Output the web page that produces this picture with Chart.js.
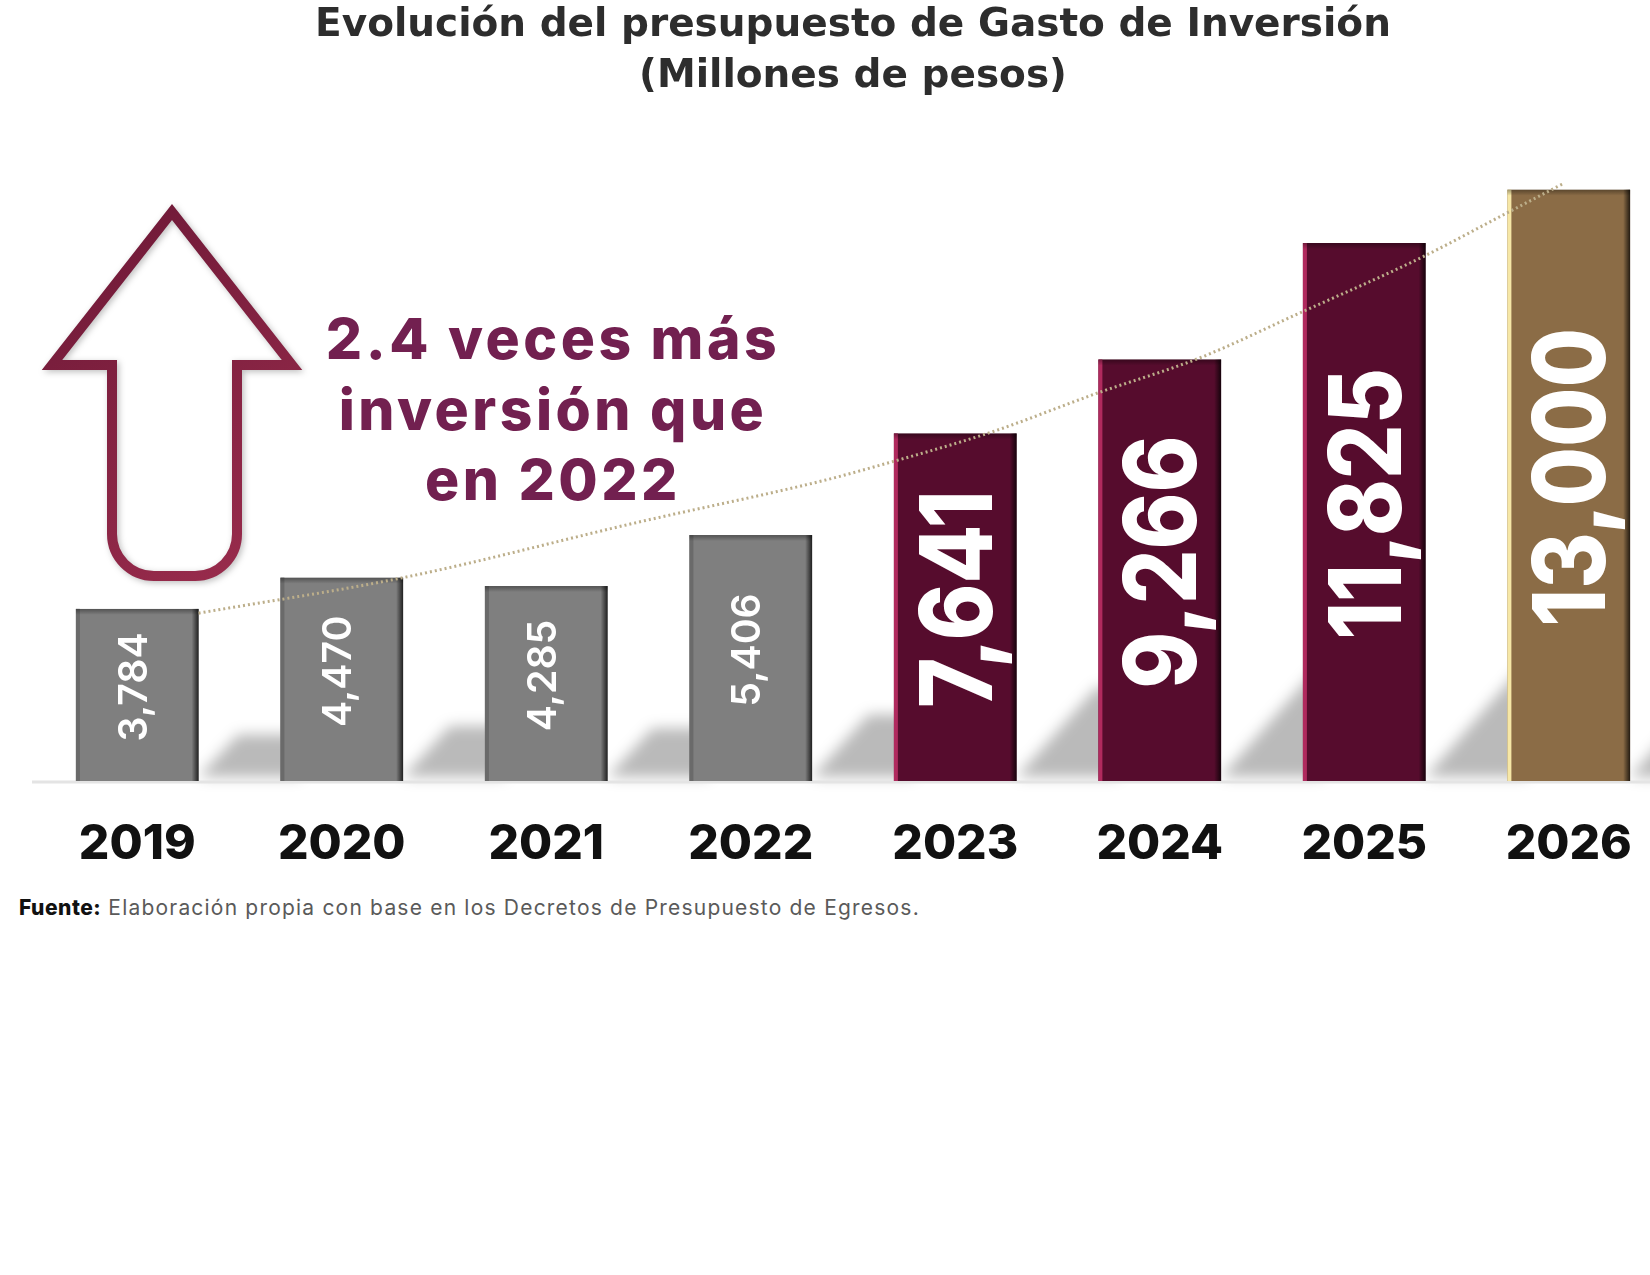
<!DOCTYPE html>
<html>
<head>
<meta charset="utf-8">
<script src="https://cdn.jsdelivr.net/npm/chart.js@4.4.1/dist/chart.umd.min.js"></script>
<style>
html, body { margin: 0; padding: 0; background: #fff; width: 1650px; height: 1275px; overflow: hidden; }
#wrap { position: absolute; left: 0; top: 0; width: 1700px; height: 880px; }
#fuente { position: absolute; left: 19px; top: 895px; font: 21px Inter, sans-serif; letter-spacing: 1.2px; color: #5a5a5a; white-space: nowrap; }
#fuente b { color: #111; font-weight: 800; letter-spacing: 0.5px; }
</style>
</head>
<body>
<div id="wrap"><canvas id="chart"></canvas></div>
<div id="fuente"><b>Fuente:</b> Elaboración propia con base en los Decretos de Presupuesto de Egresos.</div>
<script>
const years = ["2019", "2020", "2021", "2022", "2023", "2024", "2025", "2026"];
const budget = [3784, 4470, 4285, 5406, 7641, 9266, 11825, 13000];
const budgetText = ["3,784", "4,470", "4,285", "5,406", "7,641", "9,266", "11,825", "13,000"];

// dotted trend line (x = category index)
const trendX = [0.30, 1.31, 2.45, 3.36, 3.63, 4.17, 4.69, 5.20, 5.68, 6.28, 6.69, 6.98];
const trendY = [3690, 4480, 5690, 6610, 6940, 7660, 8520, 9310, 10280, 11510, 12470, 13150];

const titleLines = ["Evolución del presupuesto de Gasto de Inversión", "(Millones de pesos)"];
const noteLines = ["2.4 veces más", "inversión que", "en 2022"];

const barColors = ["#7f7f7f", "#7f7f7f", "#7f7f7f", "#7f7f7f", "#560c2d", "#560c2d", "#560c2d", "#8b6c46"];
const edgeColors = ["#6a6a6a", "#6a6a6a", "#6a6a6a", "#6a6a6a", "#b02a5e", "#b02a5e", "#b02a5e", "#f6e7a6"];

// floor line and cast shadows behind the bars
const shadowPlugin = {
    id: "shadows",
    beforeDatasetsDraw(chart) {
        const ctx = chart.ctx;
        const meta = chart.getDatasetMeta(0);
        const base = chart.scales.y.getPixelForValue(0);
        ctx.save();
        ctx.filter = "blur(7px)";
        ctx.fillStyle = "rgba(0,0,0,0.27)";
        meta.data.forEach(function (bar, i) {
            const h = base - bar.y;
            const H = 0.27 * h;
            const right = bar.x + bar.width / 2;
            const next = meta.data[i + 1];
            const end = next ? next.x - next.width / 2 + 20 : right + 200;
            ctx.beginPath();
            ctx.moveTo(right, base - 4);
            ctx.lineTo(right + 0.85 * H, base - H);
            ctx.lineTo(end, base - H);
            ctx.lineTo(end, base - 4);
            ctx.closePath();
            ctx.fill();
        });
        ctx.restore();
        ctx.save();
        ctx.strokeStyle = "#e4e4e4";
        ctx.lineWidth = 3;
        ctx.beginPath();
        ctx.moveTo(32, base + 1);
        ctx.lineTo(chart.width, base + 1);
        ctx.stroke();
        ctx.restore();
    }
};

// bevel edges and rotated value labels inside the bars
const barDecor = {
    id: "barDecor",
    afterDatasetDraw(chart, args) {
        if (args.index !== 0) return;
        const ctx = chart.ctx;
        const base = chart.scales.y.getPixelForValue(0);
        args.meta.data.forEach(function (bar, i) {
            const left = bar.x - bar.width / 2;
            const right = bar.x + bar.width / 2;
            ctx.save();
            ctx.fillStyle = edgeColors[i];
            ctx.fillRect(left, bar.y, 4, base - bar.y);
            const g = ctx.createLinearGradient(right - 7, 0, right, 0);
            g.addColorStop(0, "rgba(0,0,0,0)");
            g.addColorStop(1, "rgba(0,0,0,0.75)");
            ctx.fillStyle = g;
            ctx.fillRect(right - 7, bar.y, 7, base - bar.y);
            const gt = ctx.createLinearGradient(0, bar.y, 0, bar.y + 6);
            gt.addColorStop(0, "rgba(0,0,0,0.35)");
            gt.addColorStop(1, "rgba(0,0,0,0)");
            ctx.fillStyle = gt;
            ctx.fillRect(left, bar.y, bar.width, 6);

            const big = i >= 4;
            const size = big ? 100 : 40;
            const cy = (bar.y + base) / 2 - 8;
            ctx.translate(bar.x + (big ? 0 : -5), cy);
            ctx.rotate(-Math.PI / 2);
            ctx.scale(big ? 0.86 : 0.98, 1);
            ctx.font = (big ? "800 " : "600 ") + size + "px Inter, sans-serif";
            ctx.fillStyle = "#ffffff";
            ctx.textAlign = "center";
            ctx.textBaseline = "alphabetic";
            ctx.fillText(budgetText[i], 0, size * 0.727 / 2);
            ctx.restore();
        });
    }
};

// up arrow and note on the left
const notePlugin = {
    id: "note",
    afterDraw(chart) {
        const ctx = chart.ctx;
        ctx.save();
        ctx.shadowColor = "rgba(0,0,0,0.25)";
        ctx.shadowBlur = 6;
        ctx.shadowOffsetX = 2;
        ctx.shadowOffsetY = 2;
        const g = ctx.createLinearGradient(50, 210, 300, 580);
        g.addColorStop(0, "#6c1836");
        g.addColorStop(1, "#9c2d4e");
        ctx.strokeStyle = g;
        ctx.lineWidth = 10;
        ctx.lineJoin = "miter";
        const r = 42;
        ctx.beginPath();
        ctx.moveTo(172, 212);
        ctx.lineTo(292, 365);
        ctx.lineTo(237, 365);
        ctx.lineTo(237, 576 - r);
        ctx.arcTo(237, 576, 237 - r, 576, r);
        ctx.lineTo(112 + r, 576);
        ctx.arcTo(112, 576, 112, 576 - r, r);
        ctx.lineTo(112, 365);
        ctx.lineTo(52, 365);
        ctx.closePath();
        ctx.stroke();
        ctx.restore();

        ctx.save();
        ctx.font = "800 57px Inter, sans-serif";
        ctx.letterSpacing = "3.5px";
        ctx.fillStyle = "#722050";
        ctx.textAlign = "center";
        ctx.textBaseline = "middle";
        const ys = [342, 413, 483];
        noteLines.forEach(function (t, i) { ctx.fillText(t, 553, ys[i]); });
        ctx.restore();
    }
};

new Chart(document.getElementById("chart"), {
    type: "bar",
    data: {
        labels: years,
        datasets: [{
            type: "bar",
            data: budget,
            backgroundColor: barColors,
            barPercentage: 0.6,
            categoryPercentage: 1.0,
            grouped: false,
            order: 2
        }, {
            type: "line",
            xAxisID: "xt",
            data: trendX.map(function (x, i) { return { x: x, y: trendY[i] }; }),
            borderColor: "#bcae8a",
            borderWidth: 3,
            borderDash: [2, 3],
            pointRadius: 0,
            cubicInterpolationMode: "monotone",
            order: 1
        }]
    },
    options: {
        responsive: true,
        maintainAspectRatio: false,
        animation: false,
        layout: { padding: { left: 35, right: 29, top: 0, bottom: 4 } },
        plugins: {
            legend: { display: false },
            tooltip: { enabled: false },
            title: {
                display: true,
                text: titleLines,
                color: "#2d2d2d",
                font: { family: "DejaVu Sans", size: 39, weight: "700", lineHeight: 1.31 },
                padding: { top: 0, bottom: 42 }
            }
        },
        scales: {
            x: {
                grid: { display: false, drawTicks: false },
                border: { display: false },
                ticks: {
                    color: "#111",
                    padding: 35,
                    font: { family: "Inter", size: 48, weight: "800" }
                },
                afterFit: function (s) { s.height = 95; }
            },
            xt: {
                type: "linear",
                display: false,
                offset: false,
                min: -0.5,
                max: 7.5
            },
            y: {
                display: false,
                min: 0,
                max: 14000
            }
        }
    },
    plugins: [shadowPlugin, barDecor, notePlugin]
});
</script>
</body>
</html>
